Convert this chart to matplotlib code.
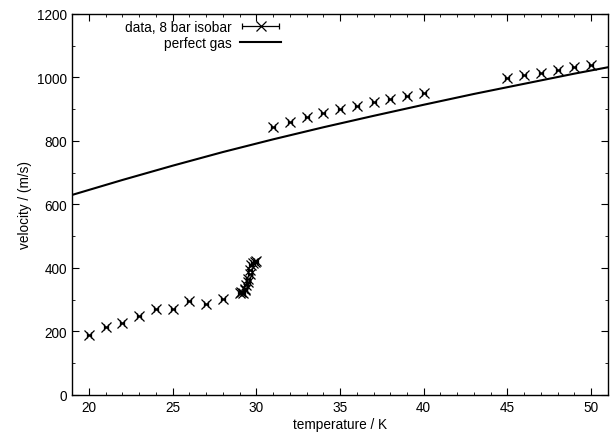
import matplotlib.pyplot as plt
from matplotlib.ticker import MultipleLocator
from matplotlib.legend_handler import HandlerErrorbar
from matplotlib.container import ErrorbarContainer

plt.rcParams['font.family'] = ['Liberation Sans', 'DejaVu Sans']
plt.rcParams['font.size'] = 9.8

# datos medidos (isobara de 8 bar)
temp = [20, 21, 22, 23, 24, 25, 26, 27, 28,
        29.0, 29.1, 29.2, 29.3, 29.35, 29.4, 29.5, 29.5, 29.6, 29.65, 29.7, 29.8, 29.9, 30.0,
        31, 32, 33, 34, 35, 36, 37, 38, 39, 40,
        45, 46, 47, 48, 49, 50]
vel = [190, 215, 228, 248, 272, 270, 297, 288, 303,
       320, 325, 322, 330, 335, 345, 355, 365, 380, 395, 410, 415, 420, 423,
       843, 860, 875, 888, 900, 910, 922, 932, 943, 952,
       997, 1007, 1015, 1023, 1032, 1040]
temp_err = [0.12] * len(temp)

# gas perfecto
temp_gas = [19, 22, 25, 28, 31, 34, 37, 40, 43, 46, 49, 51]
vel_gas = [630, 677, 722, 765, 805, 843, 879, 914, 948, 980, 1012, 1032]

fig = plt.figure(figsize=(6.11, 4.39), dpi=100)
ax = fig.add_axes([0.118, 0.098, 0.877, 0.868])

eb = ax.errorbar(temp, vel, xerr=temp_err, fmt='x', color='black', markersize=6.5,
                 mew=0.9, elinewidth=0.9, capsize=2, label='data, 8 bar isobar')
ln, = ax.plot(temp_gas, vel_gas, color='black', lw=1.5, label='perfect gas')

ax.set_xlim(19, 51)
ax.set_ylim(0, 1200)
ax.xaxis.set_major_locator(MultipleLocator(5))
ax.xaxis.set_minor_locator(MultipleLocator(1))
ax.yaxis.set_major_locator(MultipleLocator(200))
ax.yaxis.set_minor_locator(MultipleLocator(100))
ax.tick_params(which='both', direction='in', top=True, right=True)
ax.tick_params(which='major', length=5)
ax.tick_params(which='minor', length=2.5)
for s in ax.spines.values():
    s.set_linewidth(1.0)

ax.set_xlabel('temperature / K', labelpad=2)
ax.set_ylabel('velocity / (m/s)')

ax.legend([eb, ln], ['data, 8 bar isobar', 'perfect gas'],
          handler_map={ErrorbarContainer: HandlerErrorbar(xerr_size=1.35)},
          loc='upper right', bbox_to_anchor=(0.405, 1.005), frameon=False,
          markerfirst=False, handlelength=3.0, handletextpad=0.6,
          borderpad=0.1, labelspacing=0.1)

plt.savefig('out.png')
